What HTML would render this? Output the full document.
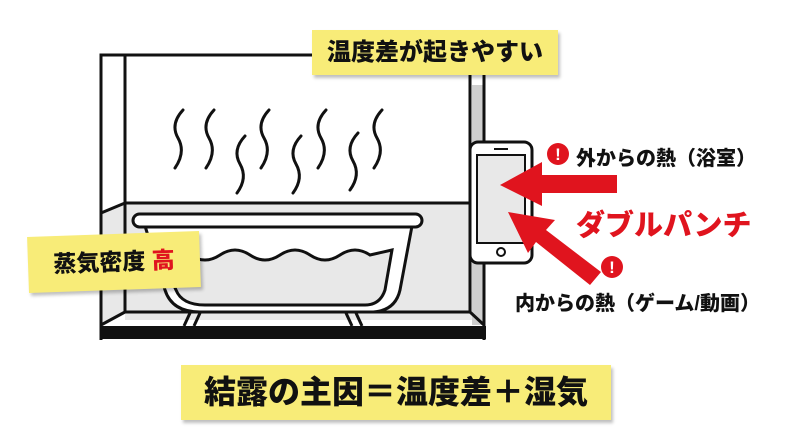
<!DOCTYPE html>
<html><head><meta charset="utf-8"><style>
body{margin:0;width:800px;height:447px;background:#fff;overflow:hidden;position:relative;font-family:"Liberation Sans","Noto Sans CJK JP",sans-serif;font-weight:900}
.box{position:absolute;background:#f8ec78;box-shadow:2px 3px 3px rgba(0,0,0,.25);color:#111;text-align:center;white-space:nowrap}
.t{position:absolute;white-space:nowrap;color:#111}
</style></head><body>
<svg width="800" height="447" style="position:absolute;left:0;top:0">
<rect x="125" y="203" width="347" height="117" fill="#e8e8e8"/>
<polygon points="101,213 125,203 125,312 101,325" fill="#e8e8e8"/>
<rect x="472" y="85" width="11" height="240" fill="#cfcfcf"/>
<g fill="none" stroke="#111" stroke-width="3">
<polyline points="101,340 101,55 484,55 484,340"/>
<line x1="125" y1="55" x2="125" y2="312"/>
<line x1="470" y1="55" x2="470" y2="312"/>
<line x1="125" y1="203" x2="470" y2="203"/>
<line x1="101" y1="213" x2="125" y2="203"/>
<line x1="470" y1="203" x2="484" y2="210"/>
<line x1="125" y1="312" x2="470" y2="312"/>
<line x1="101" y1="325" x2="125" y2="312"/>
<line x1="470" y1="312" x2="484" y2="325"/>
</g>
<rect x="100" y="326" width="386" height="13" fill="#111"/>
<path d="M145,226 L165,290 Q172,312 200,312 L370,312 Q395,312 400,290 L412,226 Z" fill="#fff" stroke="#111" stroke-width="3"/>
<path d="M160,255 Q175,245 190,255 T220,255 T250,255 T280,255 T310,255 T340,255 T370,255 L392,250 L385,290 Q380,305 365,305 L205,305 Q182,305 176,290 Z" fill="#e8e8e8" stroke="#111" stroke-width="3"/>
<rect x="133" y="214" width="289" height="13" rx="6.5" fill="#fff" stroke="#111" stroke-width="3"/>
<path d="M190,313 L184,326 M200,313 L194,326 M346,313 L352,326 M356,313 L362,326" stroke="#111" stroke-width="3"/>
<g fill="none" stroke="#111" stroke-width="3" stroke-linecap="round">
<path d="M183,110 Q170,124 178,138 Q186,152 175,168"/>
<path d="M214,110 Q201,124 209,138 Q217,152 206,168"/>
<path d="M245,136 Q232,150 240,164 Q248,178 237,193"/>
<path d="M269,110 Q256,124 264,138 Q272,152 261,168"/>
<path d="M301,136 Q288,150 296,164 Q304,178 293,193"/>
<path d="M326,110 Q313,124 321,138 Q329,152 318,168"/>
<path d="M358,133 Q345,147 353,161 Q361,175 350,190"/>
<path d="M382,110 Q369,124 377,138 Q385,152 374,168"/>
</g>
<rect x="470" y="142" width="62" height="121" rx="8" fill="#fff" stroke="#111" stroke-width="3"/>
<rect x="477" y="155" width="48" height="88" fill="#e8e8e8" stroke="#111" stroke-width="2"/>
<line x1="494" y1="149" x2="508" y2="149" stroke="#111" stroke-width="2"/>
<circle cx="501" cy="252" r="4" fill="none" stroke="#111" stroke-width="2"/>
<polygon points="500,185 542,162 542,175 617,175 617,193 542,193 542,206" fill="#e0141e"/>
<polygon points="508,212 555,220 546,230 601,272 590,285 536,242 528,253" fill="#e0141e"/>
<circle cx="558" cy="154" r="11" fill="#e0141e"/>
<circle cx="612" cy="267" r="11" fill="#e0141e"/>
<text x="558" y="160" fill="#fff" font-size="17" text-anchor="middle" font-weight="bold" font-family="Liberation Sans">!</text>
<text x="612" y="273" fill="#fff" font-size="17" text-anchor="middle" font-weight="bold" font-family="Liberation Sans">!</text>
</svg>
<div class="box" style="left:312px;top:30px;width:246px;height:45px;line-height:45px;font-size:24px">温度差が起きやすい</div>
<div class="box" style="left:28px;top:234px;width:172px;height:56px;line-height:56px;font-size:23px;transform:rotate(-2deg)">蒸気密度 <span style="color:#e0141e">高</span></div>
<div class="box" style="left:181px;top:365px;width:430px;height:55px;line-height:55px;font-size:32px">結露の主因＝温度差＋湿気</div>
<div class="t" style="left:576px;top:142px;font-size:20px">外からの熱（浴室）</div>
<div class="t" style="left:576px;top:202px;font-size:29px;color:#e0141e">ダブルパンチ</div>
<div class="t" style="left:515px;top:287px;font-size:20px">内からの熱（ゲーム/動画）</div>
</body></html>
